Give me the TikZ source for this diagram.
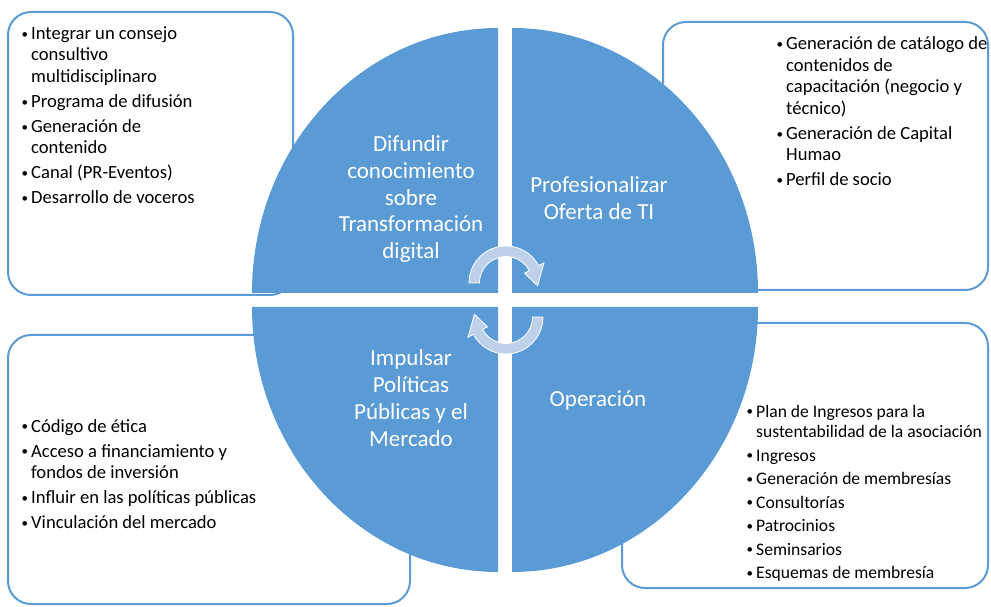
\documentclass[tikz,border=0pt]{standalone}
\usepackage{fontspec}
\setmainfont{Carlito}
\usepackage{tikz}
\usetikzlibrary{shapes,arrows,positioning}
\definecolor{azul}{RGB}{91,155,213}
\definecolor{azulclaro}{RGB}{190,208,234}
\newcommand{\bul}{\makebox[10pt][l]{\hspace{0.5pt}\raisebox{1.2pt}{\fontsize{13}{13}\selectfont\textbullet}}}
\newcommand{\lista}[1]{\begin{tabular}[t]{@{}l@{}l@{}}#1\end{tabular}}

\begin{document}
\begin{tikzpicture}[x=1pt,y=1pt,
	caja/.style={draw=azul,line width=2pt,rounded corners=23pt,fill=white},
	lista/.style={anchor=base west,inner sep=0pt,font=\fontsize{18.6}{21.5}\selectfont},
	titulo/.style={text=white,align=center,font=\fontsize{23}{26.8}\selectfont},
	giro/.style={fill=azulclaro,draw=white,line width=0.8pt}]
	\useasboundingbox (0,0) rectangle (991,606);
	% the boxes behind the circle
	\node[caja,minimum width=285pt,minimum height=283pt] (cajaDifundir) at (150.5,452.5) {};
	\node[caja,minimum width=325pt,minimum height=268pt] (cajaProfesional) at (825.5,450) {};
	\node[caja,minimum width=402pt,minimum height=269pt] (cajaImpulsar) at (209,136.5) {};
	\node[caja,minimum width=366pt,minimum height=265pt] (cajaOperacion) at (805,150.5) {};
	% the four quarters
	\fill[azul] (498,313) -- (252,313) arc[start angle=180,end angle=90,x radius=246,y radius=265] -- cycle;
	\fill[azul] (512,313) -- (512,578) arc[start angle=90,end angle=0,x radius=246,y radius=265] -- cycle;
	\fill[azul] (498,299) -- (252,299) arc[start angle=180,end angle=270,x radius=246,y radius=265] -- cycle;
	\fill[azul] (512,299) -- (758,299) arc[start angle=0,end angle=-90,x radius=246,y radius=265] -- cycle;
	%% the titles
	\node[titulo] (difundir) at (411,407) {Difundir\\conocimiento\\sobre\\Transformación\\digital};
	\node[titulo] (profesionalizar) at (599,407.5) {Profesionalizar\\Oferta de TI};
	\node[titulo] (impulsar) at (411,208) {Impulsar\\Políticas\\Públicas y el\\Mercado};
	\node[titulo] (operacion) at (598,206) {Operación};
	%% the cycle arrows
	\coordinate (giroA) at (506,323);
	\coordinate (giroB) at (506,289);
	\draw[giro] ([shift={(180:37)}]giroA) arc[start angle=180,end angle=28,radius=37]
		-- ([shift={(28:43)}]giroA) -- ([shift={(-5:31.75)}]giroA) -- ([shift={(28:21)}]giroA)
		-- ([shift={(28:26.5)}]giroA) arc[start angle=28,end angle=180,radius=26.5] -- cycle;
	\draw[giro] ([shift={(0:37)}]giroB) arc[start angle=0,end angle=-152,radius=37]
		-- ([shift={(-152:43)}]giroB) -- ([shift={(-185:31.75)}]giroB) -- ([shift={(-152:21)}]giroB)
		-- ([shift={(-152:26.5)}]giroB) arc[start angle=-152,end angle=0,radius=26.5] -- cycle;
	%% the lists
	\node[lista] (listaDifundir) at (21,566.5) {\lista{\bul & Integrar un consejo\\ & consultivo\\ & multidisciplinaro\\[3.5pt]
		\bul & Programa de difusión\\[3.5pt] \bul & Generación de\\ & contenido\\[3.5pt]
		\bul & Canal (PR-Eventos)\\[3.5pt] \bul & Desarrollo de voceros}};
	\node[lista] (listaProfesional) at (776,556) {\lista{\bul & Generación de catálogo de\\ & contenidos de\\ & capacitación (negocio y\\ & técnico)\\[3.5pt]
		\bul & Generación de Capital\\ & Humao\\[3.5pt] \bul & Perfil de socio}};
	\node[lista] (listaImpulsar) at (21,174) {\lista{\bul & Código de ética\\[3.5pt] \bul & Acceso a financiamiento y\\ & fondos de inversión\\[3.5pt]
		\bul & Influir en las políticas públicas\\[3.5pt] \bul & Vinculación del mercado}};
	\node[lista,font=\fontsize{17.6}{20.5}\selectfont] (listaOperacion) at (746,189) {\lista{\bul & Plan de Ingresos para la\\ & sustentabilidad de la asociación\\[3pt]
		\bul & Ingresos\\[3pt] \bul & Generación de membresías\\[3pt] \bul & Consultorías\\[3pt]
		\bul & Patrocinios\\[3pt] \bul & Seminsarios\\[3pt] \bul & Esquemas de membresía}};
\end{tikzpicture}
\end{document}
